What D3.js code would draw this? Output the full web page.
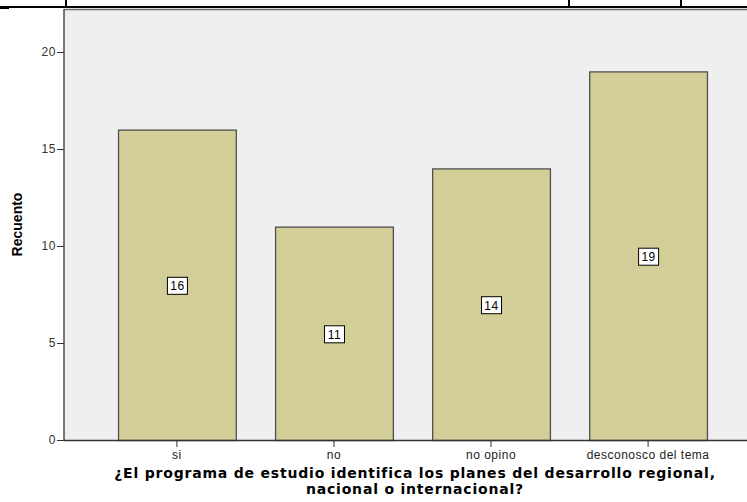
<!DOCTYPE html>
<html>
<head>
<meta charset="utf-8">
<script src="https://cdn.jsdelivr.net/npm/d3@7"></script>
<style>
  body { margin: 0; background: #fff; }
  text { font-family: "Liberation Sans", Arial, sans-serif; }
</style>
</head>
<body>
<svg id="chart" width="747" height="502"></svg>
<script>
const categories = ['si', 'no', 'no opino', 'desconosco del tema'];
const counts = [16, 11, 14, 19];
const yTicks = [0, 5, 10, 15, 20];
const yTitle = 'Recuento';
const xTitle = ['¿El programa de estudio identifica los planes del desarrollo regional,', 'nacional o internacional?'];

const svg = d3.select('#chart');

// bits of the table border left over above the chart
const tableG = svg.append('g');
tableG.append('line').attr('x1', 0).attr('x2', 747).attr('y1', 7).attr('y2', 7)
    .attr('stroke', '#000').attr('stroke-width', 2);
[66, 569, 681].forEach(x => {
    tableG.append('line').attr('x1', x).attr('x2', x).attr('y1', 0).attr('y2', 7)
        .attr('stroke', '#000').attr('stroke-width', 2);
});
tableG.append('line').attr('x1', 0).attr('x2', 9).attr('y1', 8.5).attr('y2', 8.5)
    .attr('stroke', '#000').attr('stroke-width', 1);

const plotLeft = 64, plotRight = 761, plotTop = 9, plotBottom = 440;

let xScale = d3.scaleBand()
    .domain(categories)
    .range([plotLeft, plotRight])
    .paddingInner(0.25)
    .paddingOuter(0.344);
let yScale = d3.scaleLinear()
    .domain([0, 20])
    .range([plotBottom, 52]);

// plot background
svg.append('rect')
    .attr('x', plotLeft).attr('y', plotTop)
    .attr('width', plotRight - plotLeft).attr('height', plotBottom - plotTop)
    .attr('fill', '#efefef');
svg.append('line')
    .attr('x1', plotLeft).attr('x2', 747).attr('y1', plotTop + 0.5).attr('y2', plotTop + 0.5)
    .attr('stroke', '#6e6e6e').attr('stroke-width', 1.5);

// bars
svg.append('g').selectAll('rect')
    .data(counts)
    .enter().append('rect')
    .attr('x', (d, i) => xScale(categories[i]) + 0.5)
    .attr('y', d => yScale(d) + 0.5)
    .attr('width', xScale.bandwidth())
    .attr('height', d => plotBottom - yScale(d))
    .attr('fill', '#d3ce97')
    .attr('stroke', '#4f4f4f')
    .attr('stroke-width', 1.3);

// value labels in the middle of each bar
const labels = svg.append('g').selectAll('g')
    .data(counts)
    .enter().append('g')
    .attr('transform', (d, i) => `translate(${xScale(categories[i]) + xScale.bandwidth() / 2 + 0.5},${yScale(d / 2) + 1})`);
labels.append('rect')
    .attr('x', -10).attr('y', -8.5).attr('width', 20).attr('height', 17)
    .attr('fill', '#fff').attr('stroke', '#000').attr('stroke-width', 1);
labels.append('text')
    .attr('text-anchor', 'middle')
    .attr('dy', '0.36em')
    .style('font-size', '12px')
    .style('letter-spacing', '0.5px')
    .attr('fill', '#000')
    .text(d => d);

// y axis
const yAxis = svg.append('g')
    .attr('transform', `translate(${plotLeft},0)`)
    .call(d3.axisLeft(yScale).tickValues(yTicks).tickSize(7).tickSizeOuter(0));
yAxis.select('.domain').remove();
yAxis.append('line')
    .attr('x1', 0).attr('x2', 0).attr('y1', plotTop).attr('y2', plotBottom)
    .attr('stroke', '#333').attr('stroke-width', 1.3);
yAxis.selectAll('.tick line').attr('stroke', '#333');
yAxis.selectAll('.tick text')
    .attr('x', -8)
    .style('font-size', '12px')
    .style('letter-spacing', '0.6px')
    .attr('fill', '#333');

// x axis
const xAxis = svg.append('g')
    .attr('transform', `translate(0,${plotBottom})`)
    .call(d3.axisBottom(xScale).tickSize(7).tickSizeOuter(0));
xAxis.select('.domain').remove();
xAxis.append('line')
    .attr('x1', plotLeft).attr('x2', 747).attr('y1', 0.5).attr('y2', 0.5)
    .attr('stroke', '#333').attr('stroke-width', 1.3);
xAxis.selectAll('.tick line').attr('stroke', '#333');
xAxis.selectAll('.tick text')
    .attr('y', 10)
    .style('font-size', '12px')
    .style('letter-spacing', '0.5px')
    .attr('fill', '#222');

// axis titles
svg.append('text')
    .attr('transform', `translate(22,${(plotTop + plotBottom) / 2}) rotate(-90)`)
    .attr('text-anchor', 'middle')
    .style('font-size', '14px')
    .style('font-weight', 'bold')
    .text(yTitle);

svg.append('g').selectAll('text')
    .data(xTitle)
    .enter().append('text')
    .attr('x', 415)
    .attr('y', (d, i) => 478 + i * 16)
    .attr('text-anchor', 'middle')
    .style('font-family', '"DejaVu Sans", Verdana, sans-serif')
    .style('font-size', '14px')
    .style('font-weight', 'bold')
    .style('letter-spacing', '0.8px')
    .text(d => d);
</script>
</body>
</html>
